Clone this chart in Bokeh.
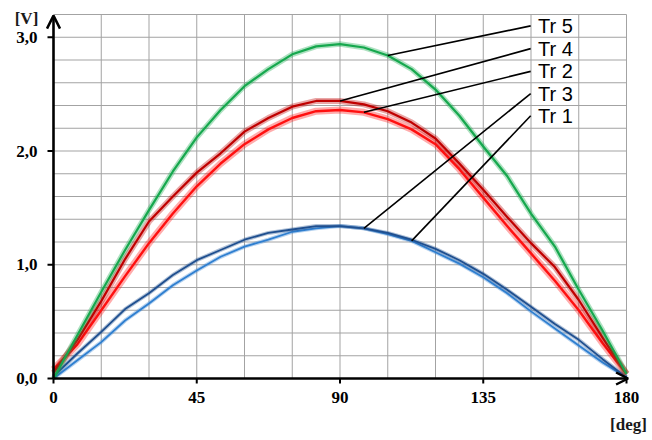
from bokeh.plotting import figure
from bokeh.models import Arrow, OpenHead, Range1d
from bokeh.core.properties import value
from bokeh.embed import file_html
from bokeh.resources import INLINE

# ---- data ----
deg = [0, 7.5, 15, 22.5, 30, 37.5, 45, 52.5, 60, 67.5, 75, 82.5, 90,
       97.5, 105, 112.5, 120, 127.5, 135, 142.5, 150, 157.5, 165, 172.5, 180]
tr5 = [0.00, 0.38, 0.76, 1.13, 1.48, 1.82, 2.12, 2.36, 2.57, 2.72, 2.85, 2.92, 2.94,
       2.91, 2.84, 2.72, 2.54, 2.31, 2.04, 1.78, 1.45, 1.16, 0.78, 0.42, 0.04]
tr4 = [0.05, 0.34, 0.68, 1.05, 1.38, 1.60, 1.81, 1.98, 2.17, 2.29, 2.39, 2.44, 2.44,
       2.41, 2.35, 2.25, 2.11, 1.89, 1.66, 1.42, 1.19, 0.98, 0.69, 0.36, 0.04]
tr2 = [0.08, 0.30, 0.60, 0.90, 1.19, 1.45, 1.69, 1.89, 2.06, 2.19, 2.29, 2.35, 2.36,
       2.34, 2.28, 2.19, 2.06, 1.84, 1.59, 1.34, 1.10, 0.86, 0.60, 0.31, 0.04]
tr3 = [0.02, 0.22, 0.41, 0.61, 0.75, 0.91, 1.04, 1.13, 1.22, 1.28, 1.31, 1.34, 1.34,
       1.32, 1.28, 1.22, 1.14, 1.04, 0.92, 0.78, 0.63, 0.48, 0.34, 0.17, 0.01]
tr1 = [0.00, 0.16, 0.32, 0.51, 0.66, 0.82, 0.95, 1.07, 1.16, 1.22, 1.29, 1.32, 1.34,
       1.32, 1.27, 1.21, 1.11, 1.01, 0.89, 0.75, 0.59, 0.44, 0.29, 0.14, 0.01]

series_names = ["Tr 5", "Tr 4", "Tr 2", "Tr 3", "Tr 1"]
x_ticks = [0, 45, 90, 135, 180]
x_tick_labels = ["0", "45", "90", "135", "180"]
y_ticks = [0, 1, 2, 3]
y_tick_labels = ["0,0", "1,0", "2,0", "3,0"]
x_grid = list(range(0, 181, 15))
y_grid = [round(i * 0.2, 1) for i in range(17)]
x_unit_label = "[deg]"
y_unit_label = "[V]"
# index of the data point each label's leader line points to
leader_idx = [14, 12, 13, 13, 15]
label_y = [3.10, 2.90, 2.70, 2.505, 2.31]

colors = {"Tr 5": "#16a84e", "Tr 4": "#c00000", "Tr 2": "#ff1010",
          "Tr 3": "#1f4f8f", "Tr 1": "#2f7fd0"}
data = {"Tr 5": tr5, "Tr 4": tr4, "Tr 2": tr2, "Tr 3": tr3, "Tr 1": tr1}

# ---- layout: the frame fills the figure; axes are drawn by hand ----
W, H = 652, 436
left_px, right_px, top_px, bottom_px = 53, 626, 14, 378
x_max, y_max = 180, 3.2
sx = (right_px - left_px) / x_max
sy = (bottom_px - top_px) / y_max
x_range = Range1d(-left_px / sx, (W - left_px) / sx)
y_range = Range1d(-(H - bottom_px) / sy, bottom_px / sy)

p = figure(width=W, height=H, x_range=x_range, y_range=y_range,
           output_backend="svg", toolbar_location=None,
           min_border=0, min_border_left=0, min_border_right=0,
           min_border_top=0, min_border_bottom=0)
p.axis.visible = False
p.grid.visible = False
p.outline_line_color = None
p.background_fill_color = "white"
p.border_fill_color = "white"

# grid
p.segment(x0=x_grid, y0=[0] * len(x_grid), x1=x_grid, y1=[y_max] * len(x_grid),
          line_color="#a3a3a3", line_width=1)
p.segment(x0=[0] * len(y_grid), y0=y_grid, x1=[x_max] * len(y_grid), y1=y_grid,
          line_color="#a3a3a3", line_width=1)

# curves (a faint wide band under each line stands for the measurement noise)
order = ["Tr 1", "Tr 3", "Tr 2", "Tr 4", "Tr 5"]
widths = {"Tr 1": 1.8, "Tr 3": 1.8, "Tr 2": 2.4, "Tr 4": 2.2, "Tr 5": 2.2}
bands = {"Tr 1": 4, "Tr 3": 4, "Tr 2": 7, "Tr 4": 6, "Tr 5": 5.5}
for name in order:
    p.line(deg, data[name], line_color=colors[name], line_width=bands[name],
           line_alpha=0.35, line_join="round")
    p.line(deg, data[name], line_color=colors[name], line_width=widths[name],
           line_join="round")

# leader lines and series labels
x0 = [149.9] * len(series_names)
x1 = [deg[i] for i in leader_idx]
y1 = [data[n][i] for n, i in zip(series_names, leader_idx)]
p.segment(x0=x0, y0=label_y, x1=x1, y1=y1, line_color="black", line_width=1.6)
p.text(x=[152.2] * len(series_names), y=label_y, text=series_names,
       text_font=value("Liberation Sans"), text_font_size="20px",
       text_baseline="middle", text_align="left", text_color="black")

# tick marks
tick_x = 5 / sy
tick_y = 6 / sx
p.segment(x0=x_ticks, y0=[0] * len(x_ticks), x1=x_ticks, y1=[-tick_x] * len(x_ticks),
          line_color="black", line_width=2)
p.segment(x0=[0] * len(y_ticks), y0=y_ticks, x1=[-tick_y] * len(y_ticks), y1=y_ticks,
          line_color="black", line_width=2)

serif = value("Liberation Serif")
p.text(x=x_ticks, y=[0] * len(x_ticks), text=x_tick_labels, text_font=serif,
       text_font_style="bold", text_font_size="17px", text_align="center",
       text_baseline="top", y_offset=13, text_color="black")
p.text(x=[0] * len(y_ticks), y=y_ticks, text=y_tick_labels, text_font=serif,
       text_font_style="bold", text_font_size="17px", text_align="right",
       text_baseline="middle", x_offset=-16, text_color="black")

# unit labels
p.text(x=[0], y=[y_max], text=[y_unit_label], text_font=serif, text_font_style="bold",
       text_font_size="17px", text_align="center", text_baseline="middle",
       x_offset=-27, y_offset=4, text_color="#1a1a1a")
p.text(x=[x_max], y=[0], text=[x_unit_label], text_font=serif, text_font_style="bold",
       text_font_size="17px", text_align="center", text_baseline="middle",
       x_offset=2, y_offset=46, text_color="#1a1a1a")

# axis lines with arrow heads
p.add_layout(Arrow(end=OpenHead(size=13, line_width=2.5, line_color="black"),
                   x_start=0, y_start=0, x_end=0, y_end=y_max - 0.01,
                   line_width=2.6, line_color="black"))
p.add_layout(Arrow(end=OpenHead(size=12, line_width=2.5, line_color="black"),
                   x_start=0, y_start=0, x_end=x_max + 0.5, y_end=0,
                   line_width=2.6, line_color="black"))

open("out.html", "w").write(file_html(p, INLINE))
